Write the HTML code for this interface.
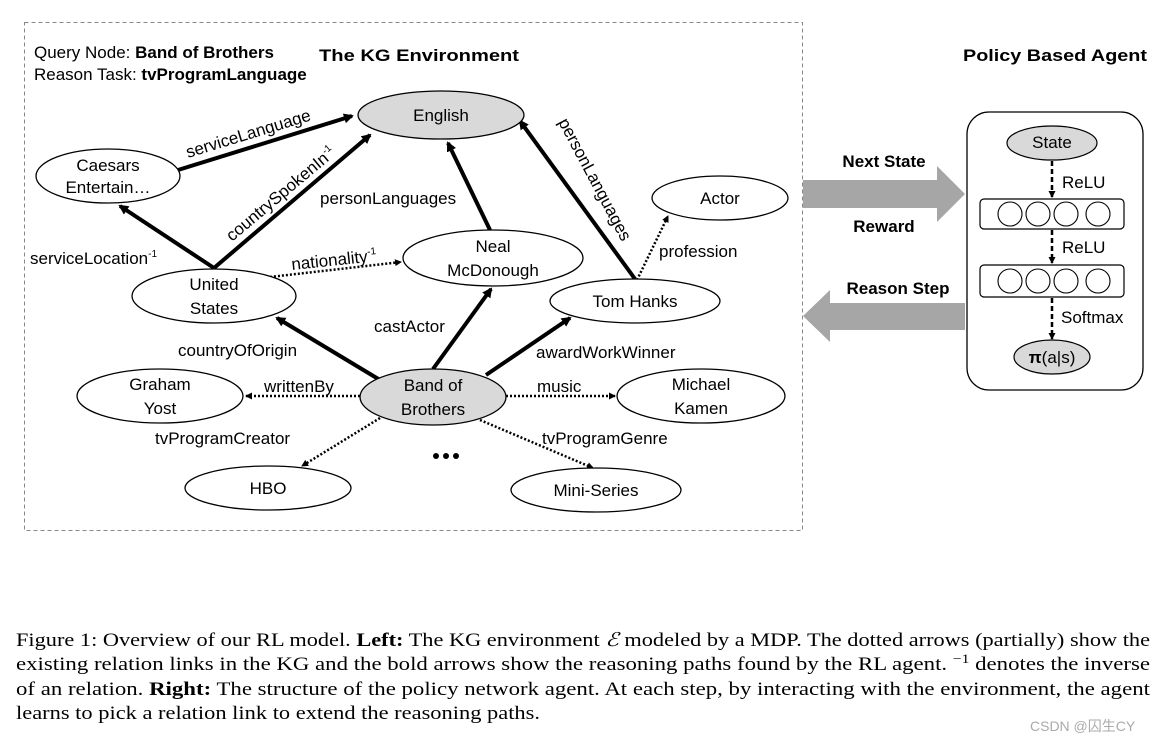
<!DOCTYPE html>
<html><head><meta charset="utf-8"><style>
html,body{margin:0;padding:0;background:#fff;}
svg{display:block;}
.n{font-family:"Liberation Sans",sans-serif;font-size:17px;fill:#000;text-anchor:middle;}
.l{font-family:"Liberation Sans",sans-serif;font-size:17px;fill:#000;}
.cap{font-family:"Liberation Serif",serif;font-size:19px;fill:#000;}
</style></head><body>
<svg width="1161" height="745" viewBox="0 0 1161 745" xmlns="http://www.w3.org/2000/svg">
<defs>
<marker id="a" markerWidth="10" markerHeight="10" refX="8" refY="5" orient="auto" markerUnits="userSpaceOnUse" viewBox="0 0 10 10"><path d="M0,0 L10,5 L0,10 z" fill="#000"/></marker>
<marker id="s" markerWidth="7" markerHeight="7" refX="6" refY="3.5" orient="auto" markerUnits="userSpaceOnUse" viewBox="0 0 7 7"><path d="M0,0 L7,3.5 L0,7 z" fill="#000"/></marker>
</defs>
<rect x="24.5" y="22.5" width="778" height="508" fill="none" stroke="#888" stroke-width="1" stroke-dasharray="4,3"/>
<text x="34" y="58" class="l" font-size="16">Query Node: <tspan font-weight="bold">Band of Brothers</tspan></text>
<text x="34" y="80" class="l" font-size="16">Reason Task: <tspan font-weight="bold">tvProgramLanguage</tspan></text>
<text x="419" y="61" class="n" font-size="21" font-weight="bold" textLength="200" lengthAdjust="spacingAndGlyphs">The KG Environment</text>
<text x="1055" y="61" class="n" font-size="21" font-weight="bold" textLength="184" lengthAdjust="spacingAndGlyphs">Policy Based Agent</text>

<g stroke="#000" stroke-width="4" fill="none" marker-end="url(#a)">
<line x1="178" y1="170" x2="352" y2="116"/>
<line x1="214" y1="268" x2="370" y2="135"/>
<line x1="214" y1="268" x2="120" y2="206"/>
<line x1="490" y1="230" x2="448" y2="143"/>
<line x1="635" y1="279" x2="520" y2="121"/>
<line x1="380" y1="380" x2="277" y2="318"/>
<line x1="433" y1="369" x2="491" y2="289"/>
<line x1="486" y1="375" x2="570" y2="318"/>
</g>
<g stroke="#000" stroke-width="2.5" stroke-dasharray="2,2" fill="none" marker-end="url(#s)">
<line x1="270" y1="277" x2="401" y2="262"/>
<line x1="637" y1="280" x2="668" y2="216"/>
<line x1="360" y1="396" x2="246" y2="396"/>
<line x1="506" y1="396" x2="615" y2="396"/>
<line x1="380" y1="418" x2="302" y2="466"/>
<line x1="480" y1="420" x2="593" y2="468"/>
</g>

<g stroke="#000" stroke-width="1.3">
<ellipse cx="441" cy="115" rx="83" ry="24" fill="#d9d9d9"/>
<ellipse cx="108" cy="176" rx="72" ry="27" fill="#fff"/>
<ellipse cx="214" cy="296" rx="82" ry="27" fill="#fff"/>
<ellipse cx="493" cy="258" rx="90" ry="28" fill="#fff"/>
<ellipse cx="720" cy="198" rx="68" ry="22" fill="#fff"/>
<ellipse cx="635" cy="301" rx="85" ry="22" fill="#fff"/>
<ellipse cx="433" cy="397" rx="73" ry="28" fill="#d9d9d9"/>
<ellipse cx="160" cy="396" rx="83" ry="27" fill="#fff"/>
<ellipse cx="701" cy="396" rx="84" ry="27" fill="#fff"/>
<ellipse cx="268" cy="488" rx="83" ry="22" fill="#fff"/>
<ellipse cx="596" cy="490" rx="85" ry="22" fill="#fff"/>
</g>
<text x="441" y="121" class="n">English</text>
<text x="108" y="171" class="n">Caesars</text><text x="108" y="193" class="n">Entertain…</text>
<text x="214" y="290" class="n">United</text><text x="214" y="314" class="n">States</text>
<text x="493" y="252" class="n">Neal</text><text x="493" y="276" class="n">McDonough</text>
<text x="720" y="204" class="n">Actor</text>
<text x="635" y="307" class="n">Tom Hanks</text>
<text x="433" y="391" class="n">Band of</text><text x="433" y="415" class="n">Brothers</text>
<text x="160" y="390" class="n">Graham</text><text x="160" y="414" class="n">Yost</text>
<text x="701" y="390" class="n">Michael</text><text x="701" y="414" class="n">Kamen</text>
<text x="268" y="494" class="n">HBO</text>
<text x="596" y="496" class="n">Mini-Series</text>
<g fill="#000"><circle cx="436" cy="456" r="3"/><circle cx="446" cy="456" r="3"/><circle cx="456" cy="456" r="3"/></g>

<text class="l" transform="translate(188,158) rotate(-17)">serviceLanguage</text>
<text class="l" transform="translate(232,242) rotate(-40)">countrySpokenIn<tspan font-size="10" dy="-7">-1</tspan></text>
<text class="l" x="30" y="264">serviceLocation<tspan font-size="10" dy="-7">-1</tspan></text>
<text class="l" x="320" y="204">personLanguages</text>
<text class="l" transform="translate(558,122) rotate(62)">personLanguages</text>
<text class="l" transform="translate(292,270) rotate(-6)">nationality<tspan font-size="10" dy="-7">-1</tspan></text>
<text class="l" x="659" y="257">profession</text>
<text class="l" x="178" y="356">countryOfOrigin</text>
<text class="l" x="374" y="332">castActor</text>
<text class="l" x="536" y="358">awardWorkWinner</text>
<text class="l" x="264" y="392">writtenBy</text>
<text class="l" x="537" y="392">music</text>
<text class="l" x="155" y="444">tvProgramCreator</text>
<text class="l" x="542" y="444">tvProgramGenre</text>

<path d="M803,180 L937,180 L937,166 L965,194 L937,222 L937,208 L803,208 z" fill="#a6a6a6"/>
<path d="M965,303 L830,303 L830,290 L803,316 L830,342 L830,330 L965,330 z" fill="#a6a6a6"/>
<text x="884" y="167" class="n" font-weight="bold">Next State</text>
<text x="884" y="232" class="n" font-weight="bold">Reward</text>
<text x="898" y="294" class="n" font-weight="bold">Reason Step</text>

<rect x="967" y="112" width="176" height="278" rx="22" fill="#fff" stroke="#000" stroke-width="1.3"/>
<ellipse cx="1052" cy="143" rx="45" ry="17" fill="#d9d9d9" stroke="#000" stroke-width="1.2"/>
<text x="1052" y="148" class="n" font-size="14">State</text>
<rect x="980" y="199" width="144" height="30" rx="4" fill="#fff" stroke="#000" stroke-width="1.2"/>
<rect x="980" y="265" width="144" height="32" rx="4" fill="#fff" stroke="#000" stroke-width="1.2"/>
<g fill="#fff" stroke="#000" stroke-width="1.1">
<circle cx="1010" cy="214" r="12"/><circle cx="1038" cy="214" r="12"/><circle cx="1066" cy="214" r="12"/><circle cx="1098" cy="214" r="12"/>
<circle cx="1010" cy="281" r="12"/><circle cx="1038" cy="281" r="12"/><circle cx="1066" cy="281" r="12"/><circle cx="1098" cy="281" r="12"/>
</g>
<ellipse cx="1052" cy="357" rx="38" ry="17" fill="#d9d9d9" stroke="#000" stroke-width="1.2"/>
<text x="1052" y="363" class="n" font-size="15"><tspan font-weight="bold">π</tspan>(a|s)</text>
<g stroke="#000" stroke-width="2.5" stroke-dasharray="5,3" marker-end="url(#s)">
<line x1="1052" y1="161" x2="1052" y2="197"/>
<line x1="1052" y1="230" x2="1052" y2="263"/>
<line x1="1052" y1="298" x2="1052" y2="339"/>
</g>
<text x="1062" y="188" class="l" font-size="15">ReLU</text>
<text x="1062" y="253" class="l" font-size="15">ReLU</text>
<text x="1061" y="323" class="l" font-size="15">Softmax</text>

<text x="16" y="646" class="cap" textLength="1134" lengthAdjust="spacingAndGlyphs">Figure 1: Overview of our RL model. <tspan font-weight="bold">Left:</tspan> The KG environment <tspan font-style="italic">ℰ</tspan> modeled by a MDP. The dotted arrows (partially) show the</text>
<text x="16" y="670" class="cap" textLength="1134" lengthAdjust="spacingAndGlyphs">existing relation links in the KG and the bold arrows show the reasoning paths found by the RL agent. <tspan font-size="13" dy="-7">−1</tspan><tspan dy="7"> denotes the inverse</tspan></text>
<text x="16" y="695" class="cap" textLength="1134" lengthAdjust="spacingAndGlyphs">of an relation. <tspan font-weight="bold">Right:</tspan> The structure of the policy network agent. At each step, by interacting with the environment, the agent</text>
<text x="16" y="719" class="cap" textLength="524" lengthAdjust="spacingAndGlyphs">learns to pick a relation link to extend the reasoning paths.</text>
<text x="1030" y="731" font-family="Liberation Sans, Noto Sans CJK SC, sans-serif" font-size="14" fill="#aaa">CSDN @囚生CY</text>
</svg>
</body></html>
